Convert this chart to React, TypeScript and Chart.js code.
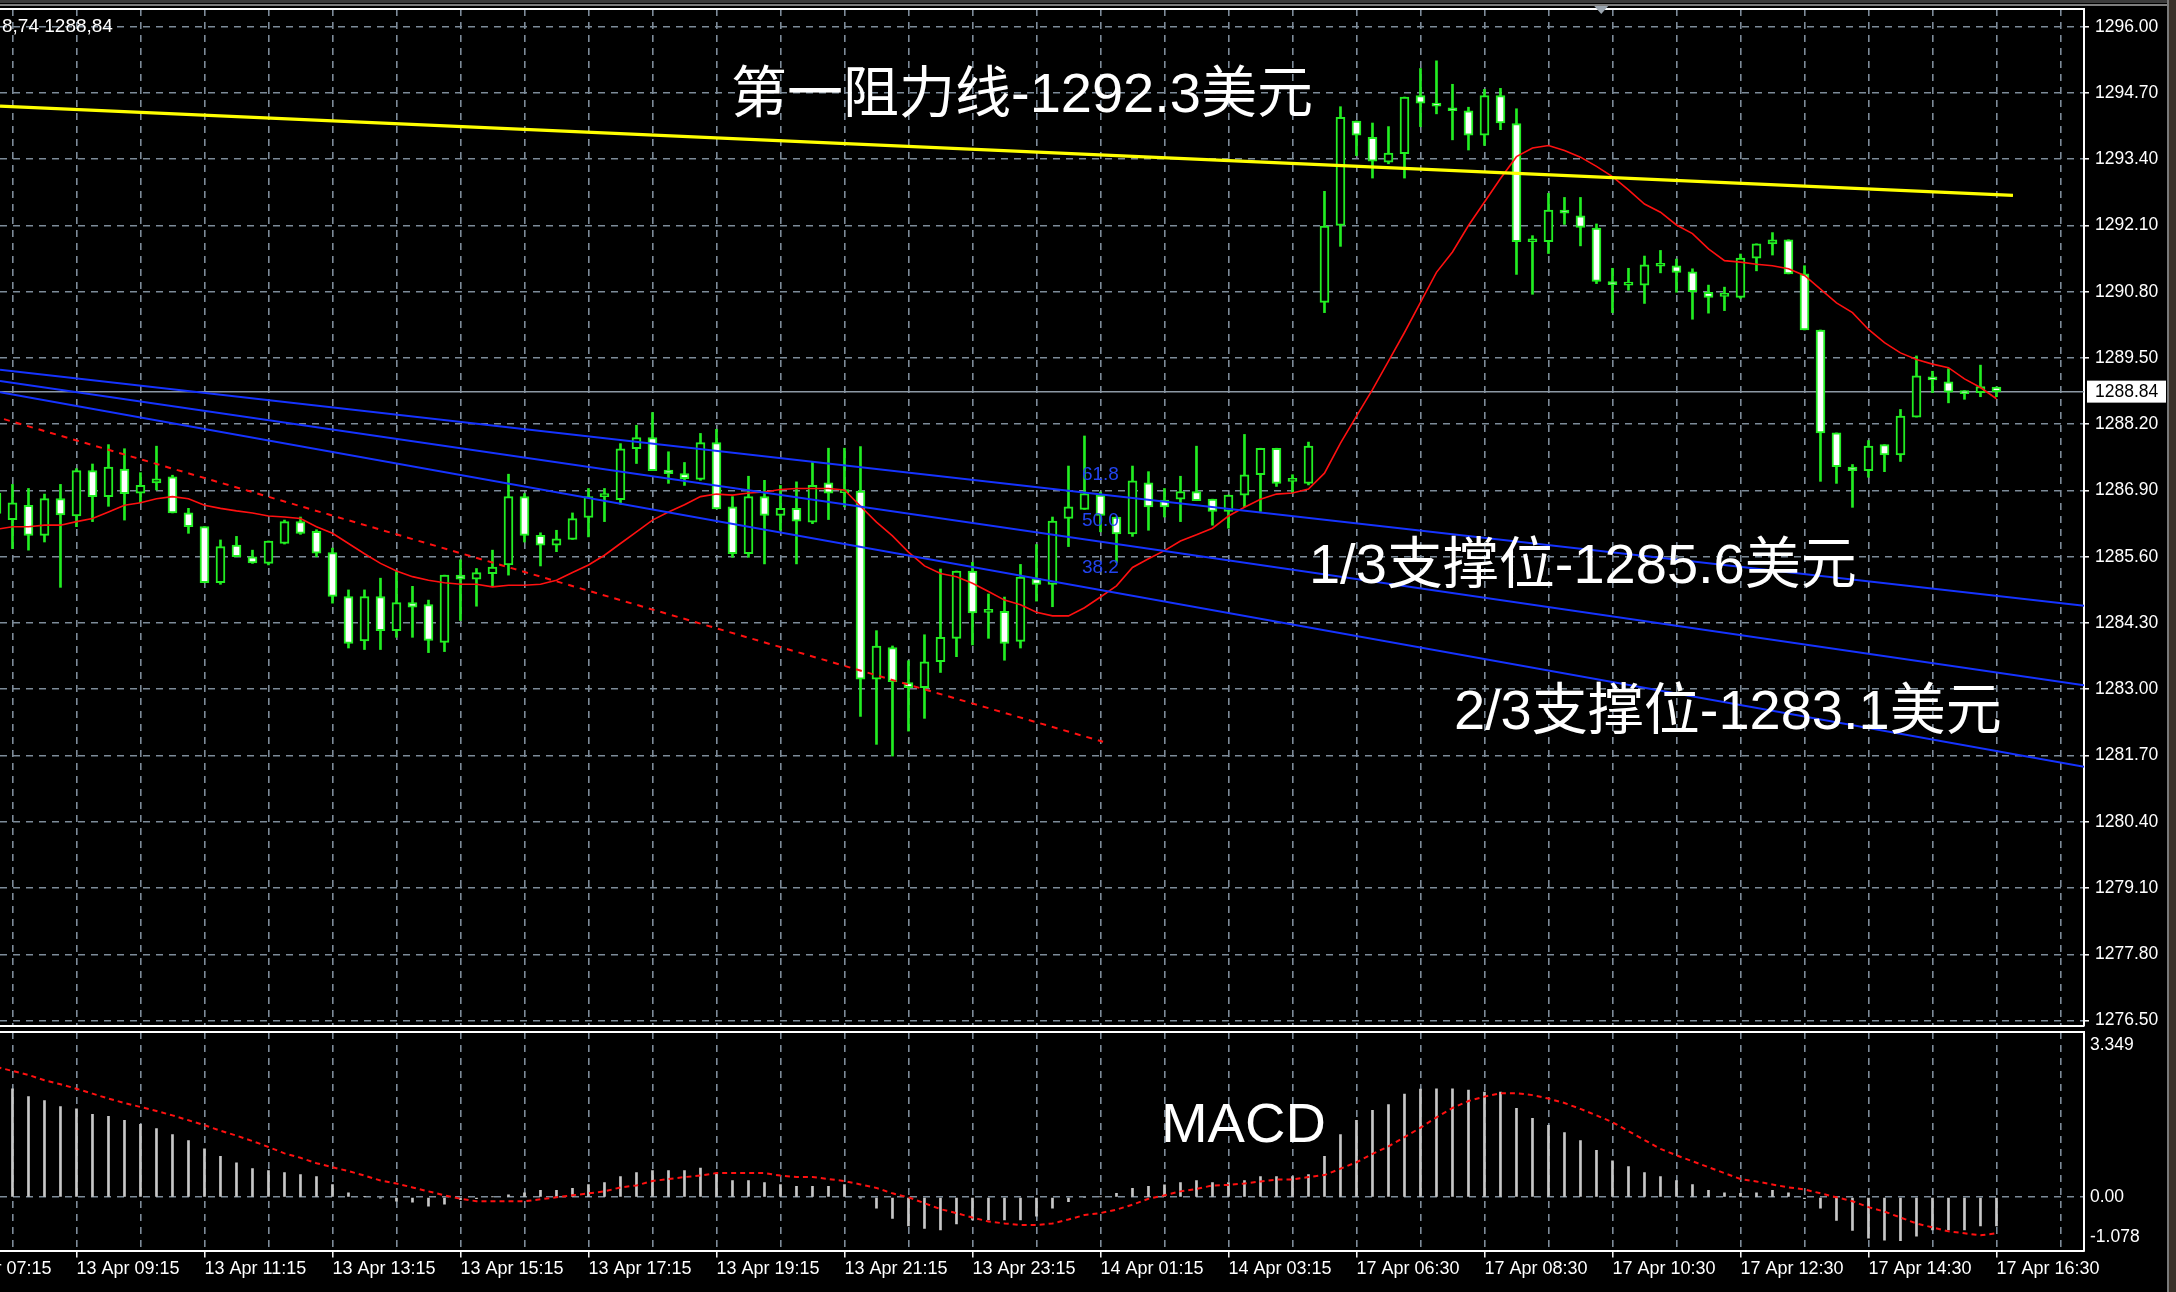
import React, { useEffect, useRef } from 'react';
import { Chart, registerables } from 'chart.js';

Chart.register(...registerables);

// ---------------- data (XAUUSD M15) ----------------
const firstCandleIndex = -1;

const opens = [
  1286.85,
  1286.33, 1286.61, 1286.02, 1286.74, 1286.40, 1287.29, 1286.78, 1287.32, 1286.85, 1287.05,
  1287.17, 1286.46, 1286.19, 1285.09, 1285.83, 1285.60, 1285.47, 1285.86, 1286.29, 1286.10,
  1285.68, 1284.82, 1283.95, 1284.82, 1284.15, 1284.70, 1284.66, 1283.92, 1285.24, 1285.16,
  1285.27, 1285.44, 1286.78, 1286.02, 1285.83, 1285.94, 1286.37, 1286.78, 1286.72, 1287.72,
  1287.94, 1287.30, 1287.23, 1287.12, 1287.84, 1286.58, 1285.66, 1286.78, 1286.41, 1286.55,
  1286.28, 1287.05, 1286.86, 1286.89, 1283.20, 1283.82, 1283.13, 1283.03, 1283.54, 1284.00,
  1285.32, 1284.51, 1284.53, 1283.94, 1285.17, 1285.06, 1286.35, 1286.53, 1286.81, 1286.38,
  1286.05, 1287.05, 1286.71, 1286.73, 1286.88, 1286.73, 1286.49, 1286.81, 1287.21, 1287.73,
  1287.08, 1287.04, 1290.59, 1292.10, 1294.15, 1293.83, 1293.34, 1293.51, 1294.65, 1294.46,
  1294.40, 1294.35, 1293.87, 1294.65, 1294.10, 1291.78, 1291.78, 1292.40, 1292.29, 1292.05,
  1291.00, 1290.93, 1290.93, 1291.30, 1291.31, 1291.19, 1290.79, 1290.71, 1290.69, 1291.46,
  1291.74, 1291.82, 1291.15, 1290.05, 1288.03, 1287.36, 1287.29, 1287.80, 1287.60, 1288.34,
  1289.13, 1289.03, 1288.84, 1288.82, 1288.93,
];

const highs = [
  1287.07,
  1287.02, 1286.94, 1286.83, 1287.02, 1287.33, 1287.42, 1287.80, 1287.72, 1287.25, 1287.77,
  1287.20, 1286.55, 1286.19, 1285.93, 1286.00, 1285.73, 1285.91, 1286.32, 1286.38, 1286.13,
  1285.77, 1284.95, 1284.95, 1285.18, 1285.31, 1285.02, 1284.75, 1285.24, 1285.54, 1285.37,
  1285.73, 1287.22, 1286.84, 1286.07, 1286.12, 1286.46, 1286.94, 1286.94, 1287.82, 1288.18,
  1288.43, 1287.66, 1287.45, 1288.02, 1288.10, 1286.78, 1287.18, 1287.10, 1287.00, 1287.07,
  1287.46, 1287.73, 1287.73, 1287.76, 1284.15, 1283.85, 1283.56, 1284.07, 1285.36, 1285.32,
  1285.49, 1284.87, 1284.81, 1285.45, 1285.84, 1286.38, 1287.38, 1287.97, 1286.87, 1286.38,
  1287.38, 1287.27, 1286.94, 1287.18, 1287.77, 1286.73, 1286.81, 1288.00, 1287.73, 1287.73,
  1287.21, 1287.85, 1292.77, 1294.43, 1294.15, 1294.11, 1294.04, 1294.62, 1295.18, 1295.33,
  1294.87, 1294.42, 1294.77, 1294.79, 1294.39, 1291.90, 1292.73, 1292.65, 1292.65, 1292.13,
  1291.26, 1291.26, 1291.50, 1291.61, 1291.44, 1291.25, 1290.93, 1290.89, 1291.54, 1291.74,
  1291.96, 1291.82, 1291.31, 1290.05, 1288.03, 1287.41, 1287.88, 1287.80, 1288.49, 1289.54,
  1289.24, 1289.29, 1288.86, 1289.36, 1288.93,
];

const lows = [
  1286.32,
  1285.76, 1285.73, 1285.89, 1285.00, 1286.19, 1286.29, 1286.59, 1286.32, 1286.66, 1286.91,
  1286.46, 1286.06, 1285.09, 1285.06, 1285.60, 1285.47, 1285.44, 1285.85, 1286.04, 1285.60,
  1284.69, 1283.81, 1283.78, 1283.78, 1284.02, 1284.02, 1283.72, 1283.74, 1284.35, 1284.63,
  1285.02, 1285.24, 1285.89, 1285.42, 1285.70, 1285.94, 1285.99, 1286.29, 1286.63, 1287.43,
  1287.29, 1287.04, 1287.00, 1287.10, 1286.54, 1285.59, 1285.59, 1285.46, 1286.12, 1285.46,
  1286.25, 1286.33, 1286.58, 1282.47, 1281.92, 1281.69, 1282.18, 1282.43, 1283.33, 1283.64,
  1283.87, 1284.00, 1283.57, 1283.81, 1284.73, 1284.62, 1285.80, 1286.53, 1286.09, 1285.49,
  1286.00, 1286.12, 1286.38, 1286.29, 1286.70, 1286.22, 1286.16, 1286.58, 1286.49, 1286.98,
  1286.85, 1287.01, 1290.39, 1291.69, 1293.47, 1293.03, 1293.31, 1293.03, 1294.04, 1294.29,
  1293.78, 1293.58, 1293.67, 1293.98, 1291.14, 1290.75, 1291.55, 1292.12, 1291.70, 1290.96,
  1290.39, 1290.83, 1290.57, 1291.17, 1290.79, 1290.26, 1290.38, 1290.43, 1290.67, 1291.21,
  1291.52, 1291.15, 1290.05, 1287.08, 1287.04, 1286.57, 1287.16, 1287.27, 1287.47, 1288.34,
  1288.82, 1288.62, 1288.69, 1288.74, 1288.74,
];

const closes = [
  1286.45,
  1286.66, 1286.02, 1286.74, 1286.42, 1287.29, 1286.78, 1287.36, 1286.84, 1287.00, 1287.13,
  1286.46, 1286.19, 1285.09, 1285.80, 1285.60, 1285.48, 1285.91, 1286.29, 1286.06, 1285.67,
  1284.82, 1283.90, 1284.82, 1284.15, 1284.70, 1284.61, 1283.96, 1285.24, 1285.16, 1285.29,
  1285.40, 1286.78, 1286.02, 1285.83, 1285.95, 1286.35, 1286.78, 1286.80, 1287.72, 1287.94,
  1287.29, 1287.23, 1287.13, 1287.84, 1286.54, 1285.66, 1286.78, 1286.41, 1286.55, 1286.30,
  1287.00, 1286.85, 1286.86, 1283.20, 1283.85, 1283.15, 1283.03, 1283.54, 1284.02, 1285.32,
  1284.50, 1284.51, 1283.90, 1285.20, 1285.06, 1286.30, 1286.58, 1286.84, 1286.41, 1286.05,
  1287.09, 1286.58, 1286.58, 1286.88, 1286.70, 1286.49, 1286.81, 1287.21, 1287.73, 1287.04,
  1287.08, 1287.77, 1292.09, 1294.22, 1293.87, 1293.36, 1293.52, 1294.62, 1294.50, 1294.44,
  1294.35, 1293.87, 1294.65, 1294.11, 1291.78, 1291.78, 1292.40, 1292.34, 1292.06, 1291.00,
  1290.94, 1290.93, 1291.33, 1291.34, 1291.18, 1290.80, 1290.69, 1290.71, 1291.46, 1291.74,
  1291.82, 1291.15, 1290.05, 1288.03, 1287.37, 1287.29, 1287.77, 1287.60, 1288.36, 1289.15,
  1289.07, 1288.83, 1288.80, 1288.94, 1288.84,
];

const maLine = [
  1286.14,
  1286.19, 1286.19, 1286.22, 1286.22, 1286.29, 1286.35, 1286.48, 1286.61, 1286.66, 1286.74,
  1286.78, 1286.74, 1286.61, 1286.55, 1286.50, 1286.46, 1286.40, 1286.38, 1286.35, 1286.19,
  1286.06, 1285.86, 1285.66, 1285.47, 1285.32, 1285.21, 1285.14, 1285.09, 1285.06, 1285.06,
  1285.01, 1285.04, 1285.04, 1285.06, 1285.14, 1285.29, 1285.44, 1285.63, 1285.86, 1286.09,
  1286.32, 1286.48, 1286.62, 1286.78, 1286.83, 1286.81, 1286.85, 1286.87, 1286.92, 1286.94,
  1286.94, 1286.94, 1286.91, 1286.59, 1286.28, 1286.01, 1285.69, 1285.42, 1285.27, 1285.21,
  1285.08, 1284.92, 1284.75, 1284.66, 1284.51, 1284.44, 1284.44, 1284.60, 1284.81, 1285.03,
  1285.39, 1285.56, 1285.72, 1285.91, 1286.03, 1286.16, 1286.40, 1286.57, 1286.73, 1286.83,
  1286.85, 1286.93, 1287.24, 1287.83, 1288.36, 1288.88, 1289.44, 1290.00, 1290.59, 1291.18,
  1291.58, 1292.10, 1292.56, 1293.02, 1293.45, 1293.62, 1293.67, 1293.57, 1293.44, 1293.26,
  1293.06, 1292.80, 1292.52, 1292.36, 1292.11, 1291.94, 1291.64, 1291.41, 1291.38, 1291.34,
  1291.31, 1291.25, 1291.12, 1290.85, 1290.58, 1290.39, 1290.06, 1289.80, 1289.60, 1289.47,
  1289.38, 1289.31, 1289.09, 1288.92, 1288.70,
];

const macdMain = [
  2.30,
  2.20, 2.04, 1.96, 1.84, 1.79, 1.68, 1.64, 1.56, 1.48, 1.39,
  1.27, 1.15, 0.98, 0.83, 0.70, 0.58, 0.54, 0.50, 0.46, 0.42,
  0.26, 0.09, 0.02, -0.01, -0.08, -0.10, -0.18, -0.14, -0.05, -0.03,
  0.01, 0.05, 0.09, 0.14, 0.14, 0.18, 0.26, 0.30, 0.42, 0.50,
  0.54, 0.54, 0.54, 0.59, 0.47, 0.34, 0.34, 0.30, 0.26, 0.22,
  0.22, 0.22, 0.26, -0.01, -0.22, -0.43, -0.58, -0.63, -0.66, -0.54,
  -0.46, -0.46, -0.46, -0.46, -0.38, -0.22, -0.09, 0.00, 0.01, 0.08,
  0.18, 0.22, 0.25, 0.30, 0.34, 0.30, 0.30, 0.34, 0.42, 0.42,
  0.42, 0.46, 0.83, 1.27, 1.56, 1.76, 1.88, 2.09, 2.19, 2.20,
  2.20, 2.17, 2.13, 2.13, 1.80, 1.60, 1.46, 1.31, 1.15, 0.95,
  0.74, 0.62, 0.50, 0.42, 0.34, 0.26, 0.14, 0.09, 0.08, 0.09,
  0.14, 0.09, -0.03, -0.22, -0.47, -0.67, -0.83, -0.87, -0.88, -0.79,
  -0.66, -0.66, -0.66, -0.58, -0.58,
];

const macdSignal = [
  2.64,
  2.56, 2.48, 2.37, 2.29, 2.20, 2.10, 2.00, 1.91, 1.83, 1.75,
  1.66, 1.56, 1.46, 1.35, 1.25, 1.14, 1.02, 0.89, 0.80, 0.69,
  0.61, 0.53, 0.44, 0.34, 0.28, 0.20, 0.12, 0.04, -0.03, -0.08,
  -0.08, -0.08, -0.08, -0.04, 0.00, 0.04, 0.08, 0.12, 0.20, 0.24,
  0.33, 0.37, 0.41, 0.44, 0.49, 0.49, 0.49, 0.49, 0.44, 0.41,
  0.41, 0.37, 0.33, 0.26, 0.19, 0.08, 0.00, -0.12, -0.24, -0.32,
  -0.41, -0.49, -0.53, -0.56, -0.56, -0.53, -0.45, -0.36, -0.32, -0.25,
  -0.15, -0.03, 0.04, 0.12, 0.17, 0.24, 0.25, 0.28, 0.32, 0.36,
  0.36, 0.41, 0.45, 0.58, 0.71, 0.88, 1.03, 1.22, 1.41, 1.62,
  1.81, 1.95, 2.04, 2.11, 2.11, 2.07, 2.00, 1.91, 1.79, 1.66,
  1.52, 1.34, 1.16, 0.98, 0.85, 0.73, 0.61, 0.49, 0.37, 0.32,
  0.26, 0.20, 0.16, 0.08, 0.00, -0.08, -0.20, -0.29, -0.41, -0.53,
  -0.61, -0.69, -0.73, -0.77, -0.73,
];

const timeTickIndex = [-4, 4, 12, 20, 28, 36, 44, 52, 60, 68, 76, 84, 92, 100, 108, 116, 124];
const timeTickLabels = [
  '13 Apr 07:15', '13 Apr 09:15', '13 Apr 11:15', '13 Apr 13:15', '13 Apr 15:15', '13 Apr 17:15',
  '13 Apr 19:15', '13 Apr 21:15', '13 Apr 23:15', '14 Apr 01:15', '14 Apr 03:15', '17 Apr 06:30',
  '17 Apr 08:30', '17 Apr 10:30', '17 Apr 12:30', '17 Apr 14:30', '17 Apr 16:30',
];
const priceTicks = [
  1276.5, 1277.8, 1279.1, 1280.4, 1281.7, 1283.0, 1284.3, 1285.6,
  1286.9, 1288.2, 1289.5, 1290.8, 1292.1, 1293.4, 1294.7, 1296.0,
];
const macdTicks = [0];
const macdAxisMax = 3.349;
const macdAxisMin = -1.078;
const priceAxisMin = 1276.394;
const priceAxisMax = 1296.347;
const indexAxisMin = -0.78;
const indexAxisMax = 129.47;
const gridEvery = 4;
const lastPrice = 1288.84;

const resistanceIndex = [-0.78, 125.03];
const resistancePrice = [1294.44, 1292.69];
const fanIndex = [-0.78, 129.47];
const fanTopPrice = [1289.27, 1284.64];
const fanMidPrice = [1289.05, 1283.08];
const fanLowPrice = [1288.83, 1281.48];
const downTrendIndex = [-0.53, 68.16];
const downTrendPrice = [1288.30, 1281.97];

const fibLabels = ['61.8', '50.0', '38.2'];
const fibLabelPrice = [1287.11, 1286.20, 1285.28];
const fibLabelIndex = 66.84;

const noteTexts = ['第一阻力线-1292.3美元', '1/3支撑位-1285.6美元', '2/3支撑位-1283.1美元'];
const noteIndex = [44.91, 81.03, 90.09];
const notePrice = [1294.33, 1285.09, 1282.22];
const macdNote = 'MACD';
const macdNoteIndex = 71.78;
const macdNoteValue = 1.117;
const quoteText = '8,74 1288,84';
const shiftMarkerIndex = 99.3;

// ---------------- styles ----------------
const GREEN = '#22ee22';
const GRID = '#7d8b99';
const GRID_DASH = [7, 6];
const AXIS_FONT = "'Liberation Sans', Arial, sans-serif";
const TEXT_FONT = "'Liberation Sans', 'Noto Sans CJK SC', sans-serif";
const TIME_SIZE = 18;
const PRICE_SIZE = 17.5;
const W = 2176;
const MAIN_H = 1029;
const MACD_H = 263;
const AXIS_W = 92;

const pts = (xs: number[], ys: number[]) => xs.map((x, i) => ({ x, y: ys[i] }));
const candleIdx = opens.map((_, i) => i + firstCandleIndex);
const gridValues = Array.from({ length: Math.floor(indexAxisMax / gridEvery) + 1 }, (_, i) => i * gridEvery);

function lineDs(data: any[], color: string, width: number, order: number, dash: number[] = []) {
  return {
    type: 'line', data, borderColor: color, borderWidth: width, pointRadius: 0,
    tension: 0, order, borderDash: dash, fill: false,
  };
}

const mainOverlay = {
  id: 'mainOverlay',
  afterDraw(chart: any) {
    const { ctx, chartArea: a, scales } = chart;
    const xs = scales.x;
    const ys = scales.y;
    ctx.save();
    // window edge
    ctx.fillStyle = '#3c3c3c';
    ctx.fillRect(0, 0, chart.width, a.top - 6);
    ctx.strokeStyle = '#a8a8a8';
    ctx.lineWidth = 1.5;
    ctx.beginPath();
    ctx.moveTo(0, a.top - 4);
    ctx.lineTo(chart.width, a.top - 4);
    ctx.stroke();
    // frame
    ctx.strokeStyle = '#ffffff';
    ctx.lineWidth = 2;
    ctx.beginPath();
    ctx.moveTo(a.left, a.top);
    ctx.lineTo(a.right, a.top);
    ctx.moveTo(a.left, a.bottom);
    ctx.lineTo(a.right, a.bottom);
    ctx.stroke();
    // shift marker
    const sx = xs.getPixelForValue(shiftMarkerIndex);
    ctx.fillStyle = '#9aa4ae';
    ctx.beginPath();
    ctx.moveTo(sx - 7, a.top - 3);
    ctx.lineTo(sx + 7, a.top - 3);
    ctx.lineTo(sx, a.top + 5);
    ctx.closePath();
    ctx.fill();
    // fibo labels
    ctx.textAlign = 'left';
    ctx.textBaseline = 'alphabetic';
    ctx.font = `19px ${TEXT_FONT}`;
    ctx.fillStyle = '#2244f0';
    fibLabels.forEach((t, i) => {
      ctx.fillText(t, xs.getPixelForValue(fibLabelIndex), ys.getPixelForValue(fibLabelPrice[i]));
    });
    // notes
    ctx.font = `56px ${TEXT_FONT}`;
    ctx.fillStyle = '#ffffff';
    noteTexts.forEach((t, i) => {
      ctx.fillText(t, xs.getPixelForValue(noteIndex[i]), ys.getPixelForValue(notePrice[i]));
    });
    // quote text
    ctx.font = `19px ${TEXT_FONT}`;
    ctx.fillText(quoteText, a.left + 2, a.top + 23);
    // price tag
    const py = ys.getPixelForValue(lastPrice);
    ctx.fillStyle = '#ffffff';
    ctx.fillRect(a.right + 3, py - 11, 79, 22);
    ctx.fillStyle = '#000000';
    ctx.font = `${PRICE_SIZE}px ${AXIS_FONT}`;
    ctx.textBaseline = 'middle';
    ctx.fillText(lastPrice.toFixed(2), a.right + 11, py + 1);
    ctx.restore();
  },
};

const macdOverlay = {
  id: 'macdOverlay',
  afterDraw(chart: any) {
    const { ctx, chartArea: a, scales } = chart;
    ctx.save();
    ctx.strokeStyle = '#ffffff';
    ctx.lineWidth = 2;
    ctx.beginPath();
    ctx.moveTo(a.left, a.top);
    ctx.lineTo(a.right, a.top);
    ctx.stroke();
    ctx.fillStyle = '#ffffff';
    ctx.textAlign = 'left';
    ctx.textBaseline = 'middle';
    ctx.font = `${PRICE_SIZE}px ${AXIS_FONT}`;
    ctx.fillText(scales.y.max.toFixed(3), a.right + 6, a.top + 13);
    ctx.fillText(scales.y.min.toFixed(3), a.right + 6, a.bottom - 13);
    ctx.textBaseline = 'alphabetic';
    ctx.font = `56px ${TEXT_FONT}`;
    ctx.fillText(macdNote, scales.x.getPixelForValue(macdNoteIndex), scales.y.getPixelForValue(macdNoteValue));
    ctx.restore();
  },
};

function mainConfig(): any {
  const fills = opens.map((o, i) => (closes[i] < o ? '#ffffff' : '#000000'));
  return {
    type: 'line',
    data: {
      datasets: [
        lineDs(pts(candleIdx, maLine), '#ff1010', 1.6, 3),
        lineDs(pts(resistanceIndex, resistancePrice), '#ffff00', 3.2, 2),
        lineDs(pts(fanIndex, fanTopPrice), '#1533ff', 2, 2),
        lineDs(pts(fanIndex, fanMidPrice), '#1533ff', 2, 2),
        lineDs(pts(fanIndex, fanLowPrice), '#1533ff', 2, 2),
        lineDs(pts(downTrendIndex, downTrendPrice), '#ff1010', 2, 2, [6, 6]),
        {
          type: 'bar',
          data: candleIdx.map((x, i) => ({ x, y: [opens[i], closes[i]] })),
          backgroundColor: fills, borderColor: GREEN, borderWidth: 2, borderSkipped: false,
          barThickness: 9, grouped: false, minBarLength: 3, order: 4,
        },
        {
          type: 'bar',
          data: candleIdx.map((x, i) => ({ x, y: [lows[i], highs[i]] })),
          backgroundColor: GREEN, borderWidth: 0, barThickness: 2, grouped: false,
          minBarLength: 1, order: 5,
        },
        lineDs(pts([indexAxisMin, indexAxisMax], [lastPrice, lastPrice]), '#8c98a4', 1.5, 6),
      ],
    },
    options: {
      animation: false,
      responsive: false,
      maintainAspectRatio: false,
      devicePixelRatio: 1,
      events: [],
      layout: { padding: { top: 9, bottom: 3, left: 0, right: 0 } },
      plugins: { legend: { display: false }, tooltip: { enabled: false } },
      scales: {
        x: {
          type: 'linear', min: indexAxisMin, max: indexAxisMax, bounds: 'data', offset: false,
          afterBuildTicks: (s: any) => { s.ticks = gridValues.map((v) => ({ value: v })); },
          ticks: { display: false, autoSkip: false },
          grid: { color: GRID, lineWidth: 1.6, drawTicks: false, offset: false },
          border: { display: false, dash: GRID_DASH },
          afterFit: (s: any) => { s.height = 0; s.paddingLeft = 0; s.paddingRight = 0; },
        },
        y: {
          type: 'linear', position: 'right', min: priceAxisMin, max: priceAxisMax, bounds: 'data',
          afterBuildTicks: (s: any) => { s.ticks = priceTicks.map((v) => ({ value: v })); },
          ticks: {
            autoSkip: false, color: '#ffffff', padding: 6,
            font: { family: AXIS_FONT, size: PRICE_SIZE },
            callback: (v: any) => Number(v).toFixed(2),
          },
          grid: { color: GRID, lineWidth: 1.6, drawTicks: true, tickLength: 5, tickColor: '#ffffff', tickWidth: 1.5 },
          border: { display: true, color: '#ffffff', width: 2, dash: GRID_DASH },
          afterFit: (s: any) => { s.width = AXIS_W; s.paddingTop = 0; s.paddingBottom = 0; },
        },
      },
    },
    plugins: [mainOverlay],
  };
}

function macdConfig(): any {
  const xTicks = [timeTickIndex[0], ...gridValues];
  return {
    type: 'line',
    data: {
      datasets: [
        lineDs(pts(candleIdx, macdSignal), '#ff1010', 2, 1, [5, 4]),
        {
          type: 'bar',
          data: pts(candleIdx, macdMain),
          backgroundColor: '#c8c8c8', borderWidth: 0, barThickness: 2, grouped: false, order: 2,
        },
      ],
    },
    options: {
      animation: false,
      responsive: false,
      maintainAspectRatio: false,
      devicePixelRatio: 1,
      events: [],
      layout: { padding: { top: 3, bottom: 0, left: 0, right: 0 } },
      plugins: { legend: { display: false }, tooltip: { enabled: false } },
      scales: {
        x: {
          type: 'linear', min: indexAxisMin, max: indexAxisMax, bounds: 'data', offset: false,
          afterBuildTicks: (s: any) => { s.ticks = xTicks.map((v) => ({ value: v })); },
          ticks: {
            autoSkip: false, maxRotation: 0, minRotation: 0, align: 'start', padding: 1,
            color: '#ffffff', font: { family: AXIS_FONT, size: TIME_SIZE },
            callback: (v: any) => {
              const k = timeTickIndex.indexOf(Number(v));
              return k >= 0 ? timeTickLabels[k] : '';
            },
          },
          grid: {
            color: GRID, lineWidth: 1.6, drawTicks: true, tickLength: 7, tickWidth: 1.5, offset: false,
            tickColor: (c: any) => (c.tick && timeTickIndex.includes(c.tick.value) ? '#ffffff' : 'rgba(0,0,0,0)'),
          },
          border: { display: true, color: '#ffffff', width: 2, dash: GRID_DASH },
          afterFit: (s: any) => { s.height = 41.5; s.paddingLeft = 0; s.paddingRight = 0; },
        },
        y: {
          type: 'linear', position: 'right', min: macdAxisMin, max: macdAxisMax, bounds: 'data',
          afterBuildTicks: (s: any) => { s.ticks = macdTicks.map((v) => ({ value: v })); },
          ticks: {
            autoSkip: false, color: '#ffffff', padding: 6,
            font: { family: AXIS_FONT, size: PRICE_SIZE },
            callback: (v: any) => Number(v).toFixed(2),
          },
          grid: { color: GRID, lineWidth: 1.6, drawTicks: false },
          border: { display: true, color: '#ffffff', width: 2, dash: GRID_DASH },
          afterFit: (s: any) => { s.width = AXIS_W; s.paddingTop = 0; s.paddingBottom = 0; },
        },
      },
    },
    plugins: [macdOverlay],
  };
}

export default function App() {
  const mainRef = useRef<HTMLCanvasElement>(null);
  const macdRef = useRef<HTMLCanvasElement>(null);

  useEffect(() => {
    document.body.style.margin = '0';
    document.body.style.background = '#000';
    const c1 = new Chart(mainRef.current as HTMLCanvasElement, mainConfig());
    const c2 = new Chart(macdRef.current as HTMLCanvasElement, macdConfig());
    return () => {
      c1.destroy();
      c2.destroy();
    };
  }, []);

  return (
    <div style={{ position: 'fixed', left: 0, top: 0, width: W, height: MAIN_H + MACD_H, background: '#000', overflow: 'hidden' }}>
      <canvas ref={mainRef} width={W} height={MAIN_H}
        style={{ position: 'absolute', left: 0, top: 0, width: W, height: MAIN_H }} />
      <canvas ref={macdRef} width={W} height={MACD_H}
        style={{ position: 'absolute', left: 0, top: MAIN_H, width: W, height: MACD_H }} />
      <div style={{ position: 'absolute', left: 2167, top: 0, width: 9, height: MAIN_H + MACD_H, background: '#3a3129', borderLeft: '2px solid #7a7a7a', boxSizing: 'border-box' }} />
    </div>
  );
}
